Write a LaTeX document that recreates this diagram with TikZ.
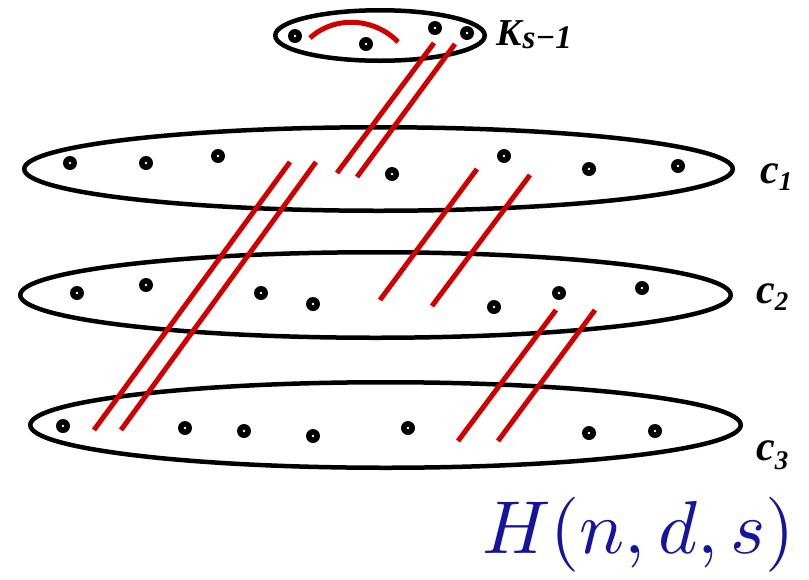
\documentclass[tikz,border=0pt]{standalone}
\usepackage{graphicx}
\usepackage{fontspec}
\usetikzlibrary{shapes.geometric}
\newfontfamily\tms{Liberation Serif}
\definecolor{redline}{RGB}{208,0,0}
\definecolor{hblue}{RGB}{20,20,160}
\begin{document}
\begin{tikzpicture}[x=1pt,y=-1pt,
  grp/.style={draw=black,line width=4.5pt,ellipse,inner sep=0pt},
  vdot/.style={circle,fill=black,inner sep=0pt,minimum size=14pt,
    path picture={\fill[white] (path picture bounding box.center) circle (1.3pt);}},
  redl/.style={draw=redline,line width=5pt},
  clab/.style={inner sep=0pt,anchor=base west,font=\tms\bfseries\itshape\fontsize{42}{42}\selectfont}]
\useasboundingbox (0,0) rectangle (809,579);
% groups
\node[grp,minimum width=209.5pt,minimum height=50.5pt] (K) at (380,35.5) {};
\node[grp,minimum width=708.5pt,minimum height=83.5pt] (C1) at (378.5,169) {};
\node[grp,minimum width=710.5pt,minimum height=85.5pt] (C2) at (375.5,295) {};
\node[grp,minimum width=710.5pt,minimum height=85.5pt] (C3) at (385.5,425) {};
% vertices of K
\node[vdot] (k1) at (295,36) {};
\node[vdot] (k2) at (366,44) {};
\node[vdot] (k3) at (435,28) {};
\node[vdot] (k4) at (467,33) {};
% vertices of C1
\node[vdot] (a1) at (70,163) {};
\node[vdot] (a2) at (146,163) {};
\node[vdot] (a3) at (218,156) {};
\node[vdot] (a4) at (392,174) {};
\node[vdot] (a5) at (504,156) {};
\node[vdot] (a6) at (589,169) {};
\node[vdot] (a7) at (678,166) {};
% vertices of C2
\node[vdot] (b1) at (77,293) {};
\node[vdot] (b2) at (146,285) {};
\node[vdot] (b3) at (261,293) {};
\node[vdot] (b4) at (313,304) {};
\node[vdot] (b5) at (494,307) {};
\node[vdot] (b6) at (559,293) {};
\node[vdot] (b7) at (642,288) {};
% vertices of C3
\node[vdot] (d1) at (63,426) {};
\node[vdot] (d2) at (185,428) {};
\node[vdot] (d3) at (244,431) {};
\node[vdot] (d4) at (313,436) {};
\node[vdot] (d5) at (408,428) {};
\node[vdot] (d6) at (589,433) {};
\node[vdot] (d7) at (655,431) {};
% red arc inside K
\coordinate (r0s) at (310,38);
\coordinate (r0e) at (398,42);
\draw[redl] (r0s) .. controls (335,15) and (375,18) .. (r0e);
% red line end points
\coordinate (r1s) at (434,43);  \coordinate (r1e) at (337,173);
\coordinate (r2s) at (455,44);  \coordinate (r2e) at (357,177);
\coordinate (r3s) at (290,162); \coordinate (r3e) at (94,430);
\coordinate (r4s) at (316,162); \coordinate (r4e) at (121,430);
\coordinate (r5s) at (477,169); \coordinate (r5e) at (380,300);
\coordinate (r6s) at (530,175); \coordinate (r6e) at (432,306);
\coordinate (r7s) at (556,310); \coordinate (r7e) at (458,441);
\coordinate (r8s) at (595,310); \coordinate (r8e) at (498,441);
\foreach \i in {1,...,8} {\draw[redl] (r\i s) -- (r\i e);}
% labels
\node[inner sep=0pt,anchor=base west,font=\tms\bfseries\itshape] (KL) at (496,45)
  {\fontsize{38}{38}\selectfont K\kern1pt\raisebox{-3pt}{\fontsize{33}{33}\selectfont s−1}};
\node[clab] (L1) at (760,183) {c\raisebox{-7pt}{\fontsize{27}{27}\selectfont 1}};
\node[clab] (L2) at (756,303) {c\raisebox{-7pt}{\fontsize{27}{27}\selectfont 2}};
\node[clab] (L3) at (756,460) {c\raisebox{-9pt}{\fontsize{27}{27}\selectfont 3}};
\node[inner sep=0pt,anchor=base west,text=hblue] (H) at (482,553) {\scalebox{7.5}{$H(n,d,s)$}};
\end{tikzpicture}
\end{document}
